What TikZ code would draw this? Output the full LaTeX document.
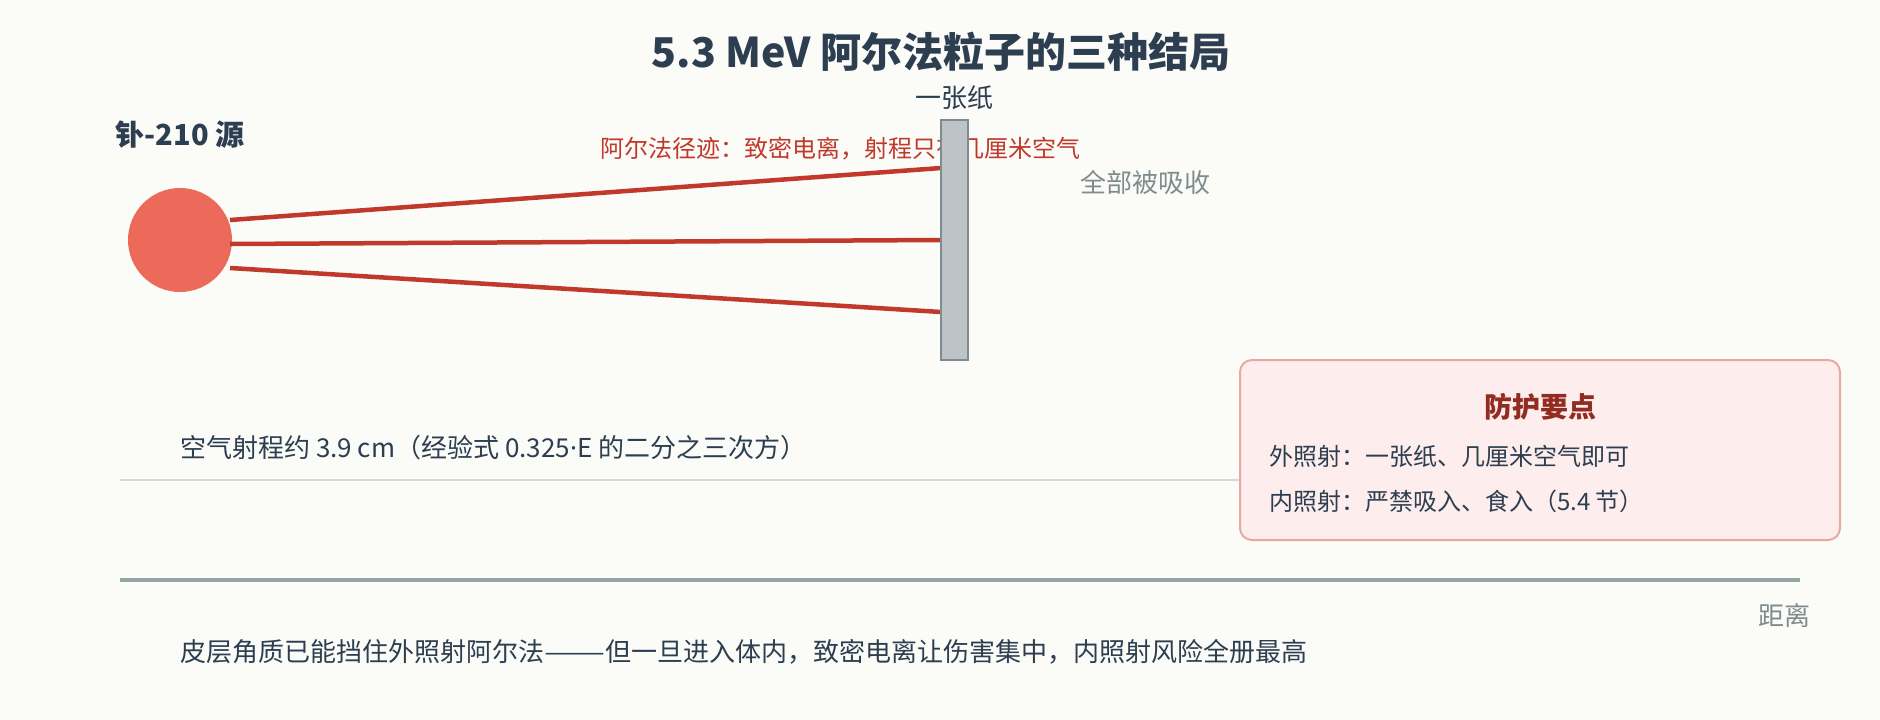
\documentclass[tikz,border=0pt]{standalone}
\usepackage{fontspec}
\setmainfont{Noto Sans CJK SC}
\newfontfamily\latinfont{Noto Sans}
\usetikzlibrary{calc}
\definecolor{bg}{HTML}{FBFBF8}
\definecolor{ink}{HTML}{2C3E50}
\definecolor{alphared}{HTML}{C0392B}
\definecolor{srcfill}{HTML}{EC6A5A}
\definecolor{paperfill}{HTML}{BDC3C7}
\definecolor{paperline}{HTML}{7F8C8D}
\definecolor{muted}{HTML}{7F8C8D}
\definecolor{thinline}{HTML}{D5D8DC}
\definecolor{axisline}{HTML}{95A5A6}
\definecolor{boxfill}{HTML}{FDEDEC}
\definecolor{boxline}{HTML}{E8A9A3}
\definecolor{boxtitle}{HTML}{922B21}
\newcommand{\fsz}[1]{\fontsize{#1pt}{#1pt}\selectfont}
\begin{document}
\begin{tikzpicture}[x=1pt,y=-1pt,
  txt/.style={inner sep=0pt, anchor=base, text=ink},
  txtw/.style={inner sep=0pt, anchor=base west, text=ink},
  track/.style={draw=alphared, line width=4.5pt},
  paperbox/.style={draw=paperline, fill=paperfill, line width=2pt, minimum width=27pt, minimum height=240pt, inner sep=0pt},
  tipbox/.style={draw=boxline, fill=boxfill, line width=2pt, rounded corners=12pt, minimum width=600pt, minimum height=180pt, inner sep=0pt}]
\fill[bg] (0,0) rectangle (1880,720);
\useasboundingbox (0,0) rectangle (1880,720);

% title
\node[txt, font=\fsz{41}\bfseries] (title) at (941,67) {5.3 MeV 阿尔法粒子的三种结局};

% source
\node[circle, fill=srcfill, minimum size=104pt, inner sep=0pt] (src) at (180,240) {};
\node[txt, font=\fsz{29}\bfseries] (srclabel) at (180,145) {钋-210 源};

% track annotation (partly hidden by the paper)
\node[txtw, text=alphared, font=\fsz{24}] (tracklabel) at (600,157) {阿尔法径迹：致密电离，射程只有几厘米空气};

% tracks
\coordinate (t1s) at (230,220); \coordinate (t1e) at (941,168);
\coordinate (t2s) at (230,244); \coordinate (t2e) at (941,240);
\coordinate (t3s) at (230,268); \coordinate (t3e) at (941,312);
\draw[track] (t1s) -- (t1e);
\draw[track] (t2s) -- (t2e);
\draw[track] (t3s) -- (t3e);

% paper
\node[paperbox] (paper) at (954,240) {};
\node[txt, font=\fsz{26}] (paperlabel) at (954,107) {一张纸};
\node[txtw, text=muted, font=\fsz{26}] (absorbed) at (1080,192) {全部被吸收};

% air range
\node[txtw, font=\fsz{26}] (airrange) at (180,457) {空气射程约 3.9 cm（经验式 0.325{\latinfont ·}E 的二分之三次方）};
\coordinate (thinL) at (120,480); \coordinate (thinR) at (1800,480);
\draw[thinline, line width=2pt] (thinL) -- (thinR);

% protection box
\node[tipbox] (tips) at (1540,450) {};
\node[txt, text=boxtitle, font=\fsz{28}\bfseries] (tipstitle) at (1540,417) {防护要点};
\node[txtw, font=\fsz{24}] (tip1) at (1269,465) {外照射：一张纸、几厘米空气即可};
\node[txtw, font=\fsz{24}] (tip2) at (1269,510) {内照射：严禁吸入、食入（5.4 节）};

% distance axis
\coordinate (axL) at (120,580); \coordinate (axR) at (1800,580);
\draw[axisline, line width=4pt] (axL) -- (axR);
\node[inner sep=0pt, anchor=base east, text=muted, font=\fsz{26}] (dist) at (1811,625) {距离};

% bottom note
\node[txtw, font=\fsz{26}] (note) at (180,661) {皮层角质已能挡住外照射阿尔法\scalebox{1.4}[1]{——}但一旦进入体内，致密电离让伤害集中，内照射风险全册最高};
\end{tikzpicture}
\end{document}
